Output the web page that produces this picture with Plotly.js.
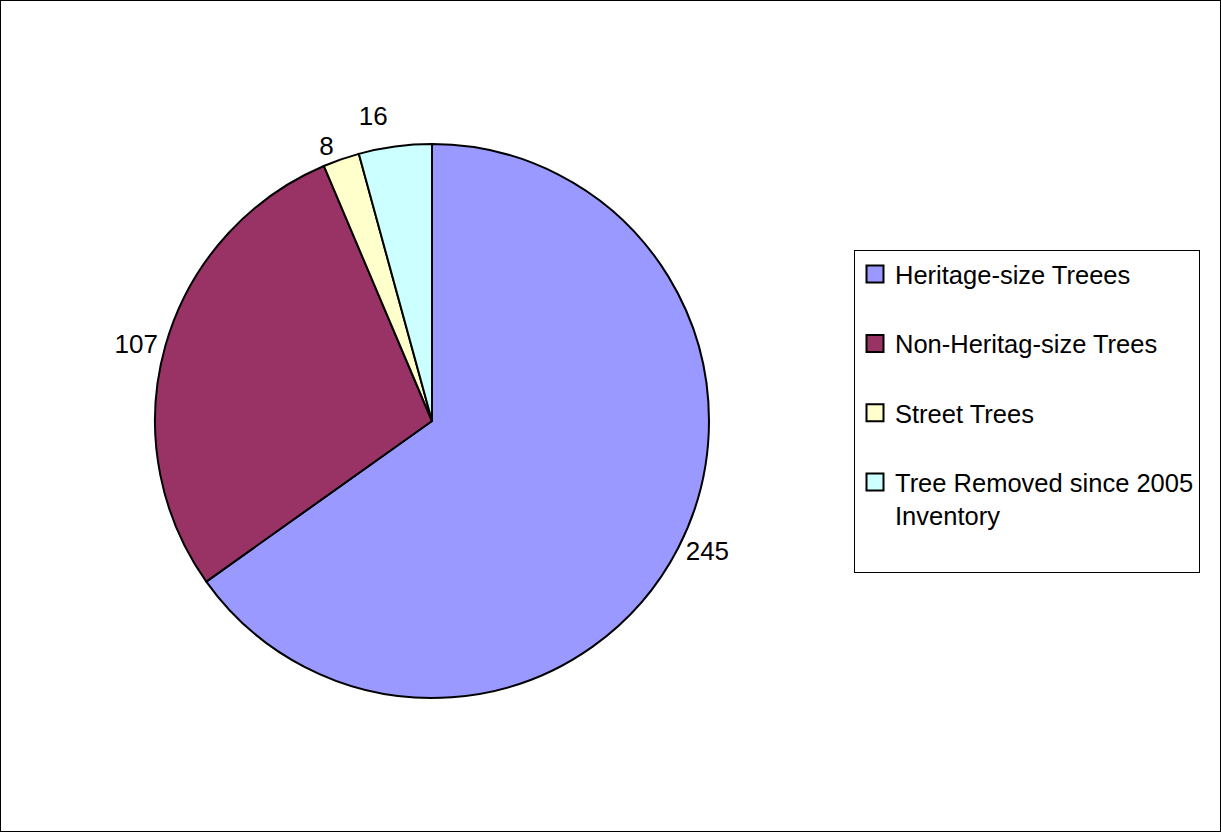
<!DOCTYPE html>
<html>
<head>
<meta charset="utf-8">
<script src="https://cdn.plot.ly/plotly-3.0.1.min.js"></script>
<style>
html,body{margin:0;padding:0;background:#fff;}
#chart{width:1221px;height:832px;}
</style>
</head>
<body>
<div id="chart"></div>
<script>
const labels = ["Heritage-size Treees", "Non-Heritag-size Trees", "Street Trees", "Tree Removed since 2005<br>Inventory"];
const values = [245, 107, 8, 16];
const colors = ["#9999FF", "#993366", "#FFFFCC", "#CCFFFF"];

const W = 1221, H = 832;
const cx = 432, cy = 421, R = 277;
const FONT = "Liberation Sans, Arial, sans-serif";

// trailing blank line gives the roomy legend spacing of the original
const legendLabels = labels.map(l => l + "<br> ");

const trace = {
  type: "pie",
  labels: legendLabels,
  values: values,
  sort: false,
  direction: "clockwise",
  rotation: 0,
  textinfo: "value",
  textposition: "outside",
  outsidetextfont: {family: FONT, size: 26, color: "#000"},
  marker: {colors: colors, line: {color: "#000", width: 2}},
  domain: {x: [(cx - R) / W, (cx + R) / W], y: [(H - cy - R) / H, (H - cy + R) / H]},
  hoverinfo: "label+value"
};

const layout = {
  width: W, height: H,
  margin: {l: 0, r: 0, t: 0, b: 0},
  paper_bgcolor: "#fff",
  showlegend: true,
  legend: {
    x: 854 / W, y: (H - 250) / H, xanchor: "left", yanchor: "top",
    bordercolor: "#000", borderwidth: 1, bgcolor: "#fff",
    font: {family: FONT, size: 25.5, color: "#000"},
    valign: "top", itemwidth: 30
  },
  shapes: [{type: "rect", xref: "paper", yref: "paper", x0: 0, x1: 1, y0: 0, y1: 1,
            line: {color: "#000", width: 2}}]
};

Plotly.newPlot("chart", [trace], layout, {displayModeBar: false, staticPlot: true}).then(gd => {
  // original has no leader lines and larger legend swatches
  gd.querySelectorAll("path.textline").forEach(p => { p.style.display = "none"; });
  gd.querySelectorAll("path.legendpie").forEach(p => {
    p.setAttribute("d", "M8.5,8.5H-8.5V-8.5H8.5Z");
    p.style.strokeWidth = "2px";
  });
});
</script>
</body>
</html>
